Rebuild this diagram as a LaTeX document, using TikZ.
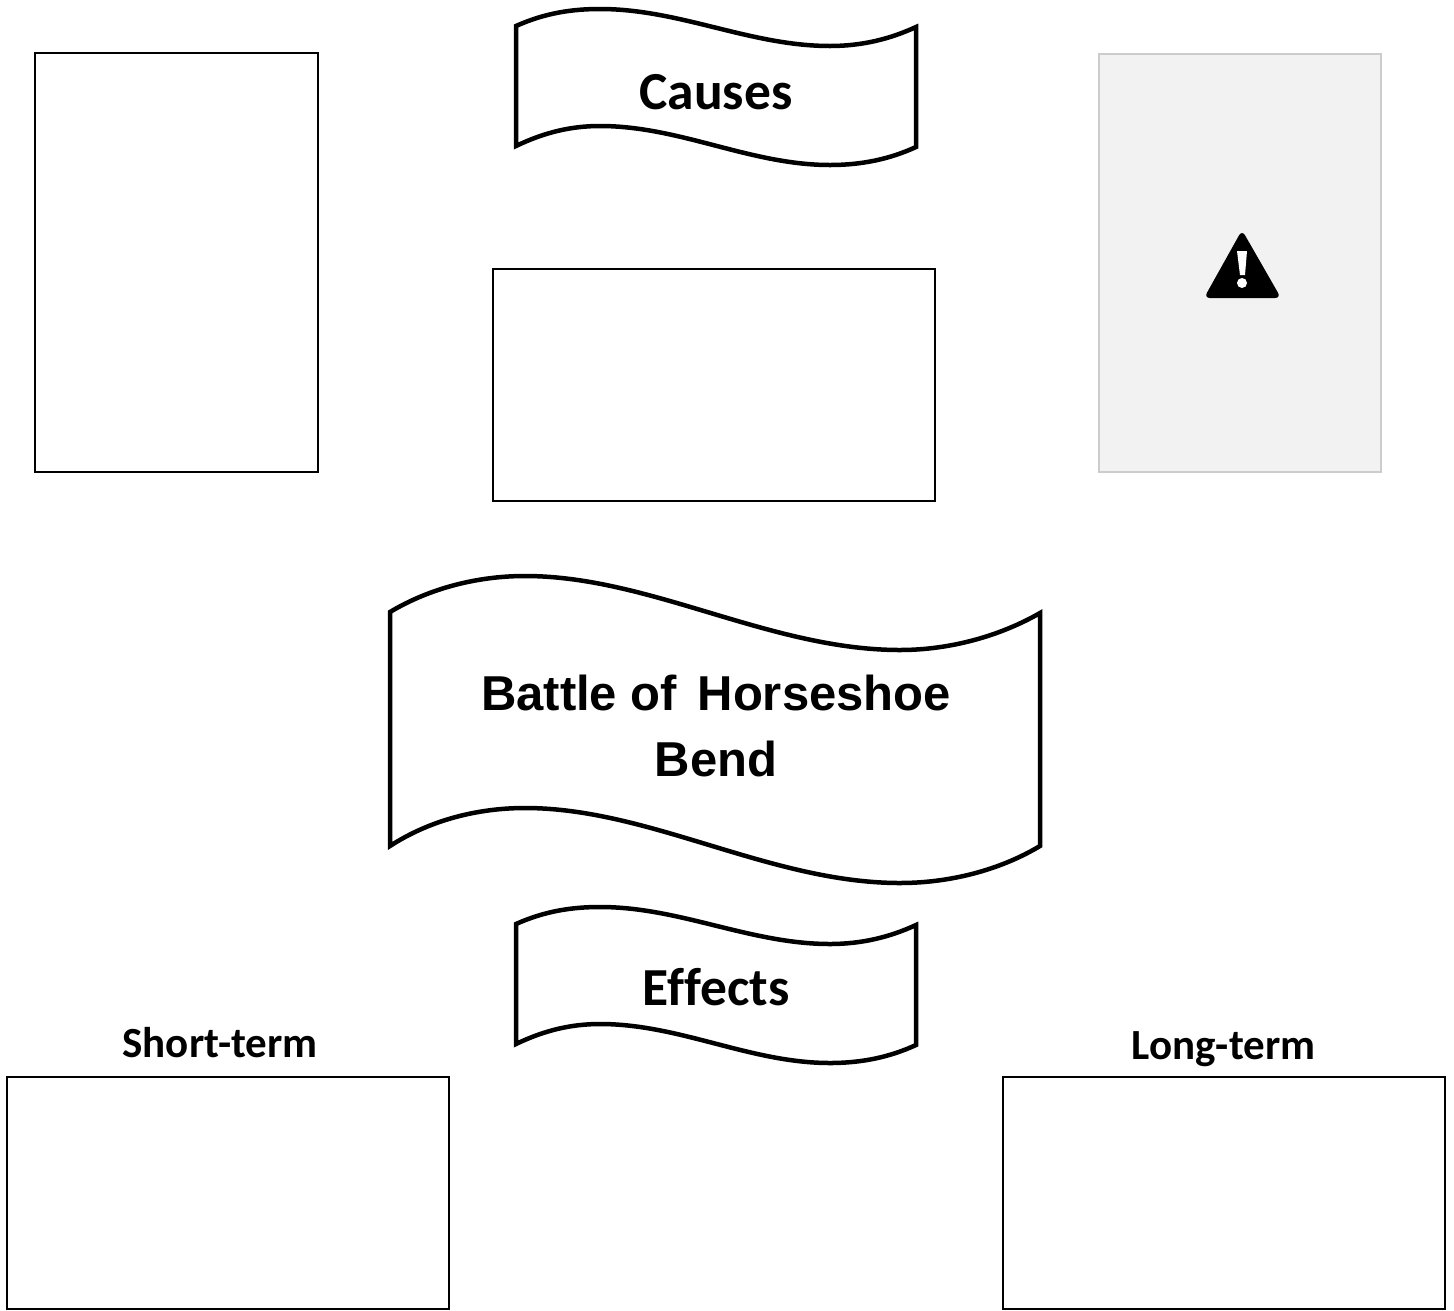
\documentclass[tikz,border=0pt]{standalone}
\usepackage{fontspec}
\usepackage{tikz}
\newfontfamily\carlito[Ligatures=NoCommon]{Carlito}
\newfontfamily\liberation{Liberation Sans}
\usetikzlibrary{arrows,positioning}

\begin{document}
\begin{tikzpicture}[x=1pt,y=-1pt,semithick]
\tikzstyle{every node}=[inner sep=0pt,outer sep=0pt]
\tikzstyle{blank}=[draw=black,line width=1.5pt,fill=white]
\tikzstyle{tall}=[blank,minimum width=283pt,minimum height=419pt]
\tikzstyle{wide}=[blank,minimum width=442pt,minimum height=232pt]
\tikzstyle{wave}=[draw=black,line width=4.5pt,line join=miter,fill=white]
\tikzstyle{small}=[anchor=base,font=\carlito\bfseries\fontsize{53.5}{60}\selectfont]
\tikzstyle{label}=[anchor=base,font=\carlito\bfseries\fontsize{43}{46}\selectfont]
\useasboundingbox (0,0) rectangle (1454,1310);

% banners
\foreach \dy in {0,898}
  \draw[wave,yshift=-\dy pt] (516,26) .. controls (545,13) and (572,9) .. (600,9)
     .. controls (680,9) and (750,46) .. (830,46)
     .. controls (862,46) and (890,39) .. (916,27) -- (916,147)
     .. controls (890,159) and (862,165) .. (830,165)
     .. controls (750,165) and (680,126) .. (600,126)
     .. controls (572,126) and (545,132) .. (516,146) -- cycle;
\draw[wave] (390,612) .. controls (430,588) and (478,576) .. (525,576)
     .. controls (650,576) and (770,650) .. (900,650)
     .. controls (950,650) and (1000,636) .. (1040,613) -- (1040,846)
     .. controls (1000,870) and (950,883) .. (900,883)
     .. controls (770,883) and (650,808) .. (525,808)
     .. controls (478,808) and (430,820) .. (390,846) -- cycle;

\node [small] at (716,109.5) (causes) {Causes};
\node [small] at (716,1005.5) (effects) {Effects};
\node [font=\liberation\bfseries\fontsize{49}{66}\selectfont,align=center] at (716,725.5) (battle)
   {Battle of\hspace{7pt} Horseshoe\\Bend};

% boxes
\node [tall] at (176.5,262.5) (reasons) {};
\node [wide] at (714,385) (middle) {};
\node [tall,draw=black!20,fill=black!5,minimum width=282pt,minimum height=418pt] at (1240,263) (missing) {};
\node [wide] at (228,1193) (short) {};
\node [wide] [right of=short,node distance=996pt] (long) {};
\node [label] at (220,1057) (shortlabel) {Short-term};
\node [label] at (1223.5,1059) (longlabel) {Long-term};

% warning sign
\fill[rounded corners=6pt] (1242,230) -- (1281,298) -- (1204,298) -- cycle;
\fill[white] (1237,251) -- (1247,251) -- (1245,275) -- (1240,275) -- cycle;
\fill[white] (1242,283) circle (5);

\end{tikzpicture}
\end{document}
